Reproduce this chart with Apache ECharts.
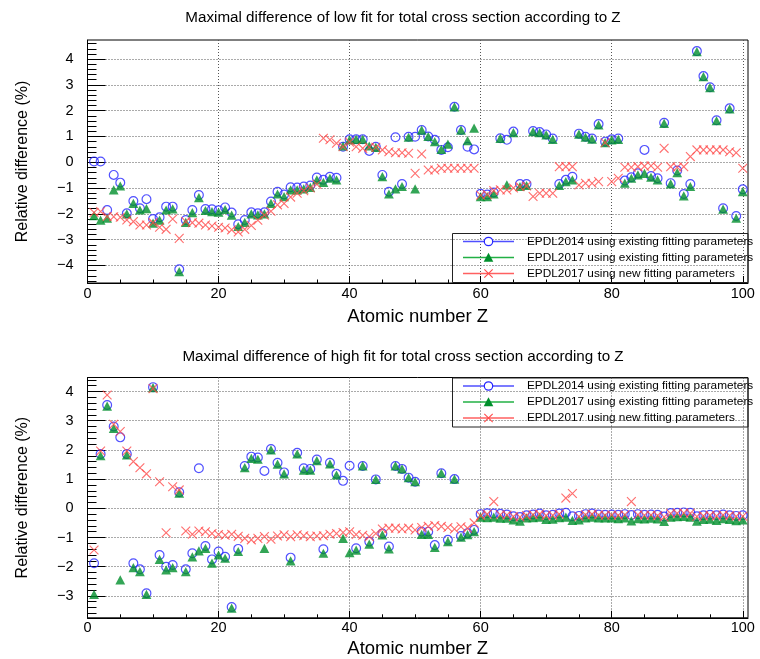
<!DOCTYPE html>
<html>
<head>
<meta charset="utf-8">
<title>Maximal difference of low and high fit for total cross section</title>
<script src="https://cdn.jsdelivr.net/npm/echarts@6/dist/echarts.min.js"></script>
<style>
  html, body { margin: 0; padding: 0; background: #fff; }
  #chart { width: 760px; height: 659px; }
</style>
</head>
<body>
<div id="chart"></div>
<script>
// Atomic numbers Z = 1 .. 100
const atomicZ = [
  1, 2, 3, 4, 5, 6, 7, 8, 9, 10, 11, 12, 13, 14, 15, 16, 17, 18, 19, 20,
  21, 22, 23, 24, 25, 26, 27, 28, 29, 30, 31, 32, 33, 34, 35, 36, 37, 38, 39, 40,
  41, 42, 43, 44, 45, 46, 47, 48, 49, 50, 51, 52, 53, 54, 55, 56, 57, 58, 59, 60,
  61, 62, 63, 64, 65, 66, 67, 68, 69, 70, 71, 72, 73, 74, 75, 76, 77, 78, 79, 80,
  81, 82, 83, 84, 85, 86, 87, 88, 89, 90, 91, 92, 93, 94, 95, 96, 97, 98, 99, 100
];

// Low fit: maximal relative difference (%)
const lowFit2014 = [
  0.03, 0.03, -1.85, -0.49, -0.79, -1.98, -1.5, -1.78, -1.43, -2.2,
  -2.13, -1.72, -1.72, -4.15, -2.24, -1.85, -1.27, -1.81, -1.82, -1.86,
  -1.75, -1.95, -2.4, -2.24, -1.94, -1.98, -1.94, -1.52, -1.14, -1.25,
  -0.97, -0.98, -0.94, -0.9, -0.59, -0.68, -0.56, -0.6, 0.6, 0.89,
  0.89, 0.89, 0.44, 0.6, -0.49, -1.14, 0.97, -0.84, 0.99, 0.99,
  1.25, 1.0, 0.87, 0.48, 0.58, 2.15, 1.25, 0.6, 0.5, -1.22,
  -1.25, -1.17, 0.93, 0.87, 1.19, -0.84, -0.84, 1.21, 1.17, 1.08,
  0.92, -0.84, -0.68, -0.56, 1.11, 0.99, 0.92, 1.48, 0.8, 0.89,
  0.92, -0.71, -0.58, -0.43, 0.48, -0.53, -0.62, 1.53, -0.81, -0.32,
  -1.23, -0.84, 4.31, 3.34, 2.91, 1.63, -1.78, 2.09, -2.08, -1.05
];
const lowFit2017Old = [
  -2.07, -2.24, -2.17, -1.07, -0.92, -2.0, -1.59, -1.85, -1.8, -2.36,
  -2.24, -1.85, -1.81, -4.24, -2.33, -1.95, -1.37, -1.87, -1.91, -1.93,
  -1.83, -2.05, -2.49, -2.33, -2.0, -2.04, -2.0, -1.59, -1.23, -1.33,
  -1.07, -1.07, -1.03, -0.97, -0.68, -0.78, -0.62, -0.68, 0.63, 0.87,
  0.89, 0.89, 0.63, 0.58, -0.56, -1.23, -1.03, -0.94, 0.97, -1.03,
  1.25, 1.0, 0.8, 0.5, 0.7, 2.15, 1.25, 0.84, 1.32, -1.33,
  -1.33, -1.23, 0.93, -0.88, 1.15, -0.94, -0.9, 1.19, 1.15, 1.06,
  0.89, -0.9, -0.75, -0.68, 1.09, 0.97, 0.9, 1.45, 0.76, 0.87,
  0.89, -0.81, -0.62, -0.49, -0.43, -0.58, -0.68, 1.51, -0.84, -0.4,
  -1.3, -0.94, 4.29, 3.32, 2.89, 1.61, -1.82, 2.07, -2.17, -1.14
];
const lowFit2017New = [
  -1.95, -1.91, -2.1, -2.11, -2.13, -2.24, -2.3, -2.43, -2.43, -2.34,
  -2.52, -2.6, -2.2, -2.95, -2.3, -2.34, -2.36, -2.43, -2.47, -2.52,
  -2.55, -2.62, -2.7, -2.6, -2.45, -2.25, -2.05, -1.9, -1.65, -1.6,
  -1.35, -1.2, -1.1, -1.0, -0.85, 0.93, 0.87, 0.74, 0.6, 0.78,
  0.6, 0.54, 0.58, 0.58, 0.48, 0.41, 0.37, 0.37, 0.35, -0.43,
  0.32, -0.3, -0.3, -0.23, -0.23, -0.23, -0.23, -0.23, -0.23, -1.28,
  -1.25, -1.1, -1.07, -1.07, -1.0, -0.95, -0.92, -1.33, -1.2, -1.2,
  -1.2, -0.17, -0.17, -0.17, -0.88, -0.81, -0.81, -0.75, 0.76, -0.75,
  -0.62, -0.19, -0.19, -0.17, -0.15, -0.14, -0.19, 0.54, -0.17, -0.19,
  -0.17, 0.22, 0.48, 0.48, 0.48, 0.48, 0.48, 0.41, 0.37, -0.23
];

// High fit: maximal relative difference (%)
const highFit2014 = [
  -1.88, 1.86, 3.54, 2.8, 2.43, 1.86, -1.88, -2.09, -2.91, 4.15,
  -1.6, -2.0, -1.94, 0.55, -2.09, -1.54, 1.37, -1.29, -1.75, -1.48,
  -1.66, -3.38, -1.39, 1.45, 1.77, 1.74, 1.28, 2.03, 1.56, 1.23,
  -1.69, 1.9, 1.37, 1.35, 1.67, -1.4, 1.56, 1.18, 0.94, 1.46,
  -1.37, 1.45, -1.14, 0.99, -0.86, -1.31, 1.45, 1.35, 1.05, 0.91,
  -0.8, -0.8, -1.26, 1.2, -1.08, 1.0, -0.95, -0.85, -0.74, -0.2,
  -0.17, -0.18, -0.19, -0.21, -0.27, -0.3, -0.24, -0.21, -0.18, -0.24,
  -0.22, -0.18, -0.15, -0.27, -0.26, -0.2, -0.18, -0.21, -0.22, -0.21,
  -0.22, -0.2, -0.23, -0.2, -0.22, -0.21, -0.22, -0.28, -0.16, -0.15,
  -0.14, -0.15, -0.27, -0.24, -0.22, -0.24, -0.21, -0.24, -0.26, -0.24
];
const highFit2017Old = [
  -2.95, 1.8, 3.5, 2.74, -2.45, 1.83, -2.03, -2.17, -2.95, 4.13,
  -1.75, -2.11, -2.03, 0.52, -2.17, -1.66, -1.46, -1.37, -1.88, -1.6,
  -1.71, -3.42, -1.48, 1.39, 1.71, 1.68, -1.37, 2.0, 1.51, 1.18,
  -1.8, 1.86, 1.31, 1.31, 1.63, -1.54, 1.52, 1.14, -1.03, -1.52,
  -1.43, 1.45, -1.23, 0.99, -0.91, -1.39, 1.45, 1.35, 1.05, 0.91,
  -0.89, -0.89, -1.34, 1.2, -1.14, 1.0, -0.99, -0.9, -0.8, -0.3,
  -0.32, -0.3, -0.34, -0.34, -0.4, -0.44, -0.33, -0.32, -0.3, -0.38,
  -0.37, -0.32, -0.3, -0.41, -0.4, -0.33, -0.3, -0.33, -0.33, -0.33,
  -0.35, -0.33, -0.43, -0.35, -0.36, -0.34, -0.36, -0.45, -0.3, -0.29,
  -0.28, -0.3, -0.44, -0.38, -0.37, -0.41, -0.35, -0.38, -0.42, -0.4
];
const highFit2017New = [
  -1.43, 1.96, 3.88, 2.88, 2.63, 1.96, 1.6, 1.39, 1.18, 4.1,
  0.91, -0.84, 0.74, 0.63, -0.78, -0.89, -0.78, -0.8, -0.86, -0.9,
  -0.92, -0.89, -0.96, -1.03, -1.08, -1.03, -0.97, -1.06, -0.95, -0.91,
  -0.97, -0.91, -0.94, -0.97, -0.95, -0.94, -0.89, -0.86, -0.83, -0.8,
  -0.9, -0.92, -0.97, -0.86, -0.71, -0.68, -0.68, -0.71, -0.68, -0.74,
  -0.66, -0.62, -0.59, -0.62, -0.66, -0.71, -0.63, -0.68, -0.5, -0.25,
  -0.2, 0.23, -0.22, -0.23, -0.28, -0.3, -0.25, -0.22, -0.2, -0.25,
  -0.24, -0.2, 0.35, 0.51, -0.28, -0.22, -0.2, -0.23, -0.24, -0.23,
  -0.24, -0.22, 0.23, -0.22, -0.24, -0.23, -0.25, -0.3, -0.18, -0.17,
  -0.16, -0.17, -0.28, -0.26, -0.24, -0.26, -0.23, -0.25, -0.27, -0.27
];

// Axis tick labels
const xTickLabels = [0, 20, 40, 60, 80, 100];
const yTickLabelsLow = [-4, -3, -2, -1, 0, 1, 2, 3, 4];
const yTickLabelsHigh = [-3, -2, -1, 0, 1, 2, 3, 4];

const titles = [
  'Maximal difference of low fit for total cross section according to Z',
  'Maximal difference of high fit for total cross section according to Z'
];
const seriesNames = [
  'EPDL2014 using existing fitting parameters',
  'EPDL2017 using existing fitting parameters',
  'EPDL2017 using new fitting parameters'
];
const xTitle = 'Atomic number Z';
const yTitle = 'Relative difference (%)';

// ---- styling and layout ----
const FONT = '"Liberation Sans", Arial, Helvetica, sans-serif';
const BLUE = '#2626ff', GREEN = '#008f2c', RED = '#ff4a4a';
const BLUE_LINE = '#4f4fff', GREEN_LINE = '#22b044', RED_LINE = '#ff6060';
const CROSS_PATH = 'path://M0,0L10,10M10,0L0,10';
const X_MAX = 100.8;
const GRID_LEFT = 87.5, GRID_WIDTH = 660.5;
const panels = [
  { top: 40, height: 243, yMin: -4.68, yMax: 4.74, yLabels: yTickLabelsLow, nameGap: 24 },
  { top: 377.5, height: 240.3, yMin: -3.75, yMax: 4.48, yLabels: yTickLabelsHigh, nameGap: 22 }
];

function stepValues(lo, hi, step, skipEvery) {
  const out = [];
  const n0 = Math.ceil(lo / step - 1e-9), n1 = Math.floor(hi / step + 1e-9);
  for (let n = n0; n <= n1; n++) {
    if (skipEvery && n % skipEvery === 0) continue;
    out.push(Math.round(n * step * 1000) / 1000);
  }
  return out;
}
const signed = v => (v < 0 ? '\u2212' + (-v) : String(v));
const gridLine = { show: true, lineStyle: { color: '#555', width: 1, type: [1, 2] } };
const black = { color: '#000', width: 1 };

const grids = [], xAxes = [], yAxes = [];
panels.forEach((p, i) => {
  grids.push({
    left: GRID_LEFT, top: p.top, width: GRID_WIDTH, height: p.height,
    show: true, borderColor: '#000', borderWidth: 1, backgroundColor: 'transparent',
    containLabel: false, outerBoundsMode: 'none'
  });
  // main x axis: labels, long ticks, grid lines
  xAxes.push({
    type: 'value', gridIndex: i, position: 'bottom', min: 0, max: X_MAX, splitNumber: 5,
    name: xTitle, nameLocation: 'middle', nameGap: p.nameGap,
    nameTextStyle: { fontFamily: FONT, fontSize: 18.5, color: '#000' },
    axisLine: { show: true, onZero: false, lineStyle: black },
    axisTick: { show: true, inside: true, length: 7, customValues: xTickLabels, lineStyle: black },
    axisLabel: { show: true, customValues: xTickLabels, margin: 3, fontFamily: FONT, fontSize: 14.5, color: '#000' },
    splitLine: gridLine
  });
  // secondary x ticks every 5
  xAxes.push({
    type: 'value', gridIndex: i, position: 'bottom', min: 0, max: X_MAX,
    axisLine: { show: false, onZero: false },
    axisTick: { show: true, inside: true, length: 3.5, customValues: stepValues(0, 100, 5, 4), lineStyle: black },
    axisLabel: { show: false }, splitLine: { show: false }
  });
  // main y axis
  yAxes.push({
    type: 'value', gridIndex: i, position: 'left', min: p.yMin, max: p.yMax, splitNumber: 10,
    name: yTitle, nameLocation: 'middle', nameGap: 57, nameRotate: 90,
    nameTextStyle: { fontFamily: FONT, fontSize: 16, color: '#000' },
    axisLine: { show: true, onZero: false, lineStyle: black },
    axisTick: { show: true, inside: true, length: 18, customValues: p.yLabels, lineStyle: black },
    axisLabel: { show: true, customValues: p.yLabels, margin: 14, fontFamily: FONT, fontSize: 14.5, color: '#000',
                 formatter: v => signed(v) },
    splitLine: gridLine
  });
  // secondary y ticks every 0.2
  yAxes.push({
    type: 'value', gridIndex: i, position: 'left', min: p.yMin, max: p.yMax,
    axisLine: { show: false, onZero: false },
    axisTick: { show: true, inside: true, length: 9, customValues: stepValues(p.yMin, p.yMax, 0.2, 5), lineStyle: black },
    axisLabel: { show: false }, splitLine: { show: false }
  });
});

const pairs = vals => atomicZ.map((z, i) => [z, vals[i]]);
const markerStyles = [
  { symbol: 'circle', symbolSize: 8.8, itemStyle: { color: 'rgba(0,0,0,0)', borderColor: BLUE, borderWidth: 1.2 } },
  { symbol: 'triangle', symbolSize: [9.8, 9.2], itemStyle: { color: GREEN } },
  { symbol: CROSS_PATH, symbolSize: 8.8, itemStyle: { color: 'rgba(0,0,0,0)', borderColor: RED, borderWidth: 1.1 } }
];
const panelData = [
  [lowFit2014, lowFit2017Old, lowFit2017New],
  [highFit2014, highFit2017Old, highFit2017New]
];
const series = [];
panelData.forEach((sets, pi) => {
  sets.forEach((vals, si) => {
    series.push(Object.assign({
      type: 'scatter', name: seriesNames[si],
      xAxisIndex: pi * 2, yAxisIndex: pi * 2,
      data: pairs(vals), silent: true, z: 3 + si,
      emphasis: { disabled: true }
    }, markerStyles[si]));
  });
});

// legend boxes (line + marker + text)
function legendBox(top) {
  const els = [{
    type: 'rect', z: 10, shape: { x: 452.5, y: top + 0.5, width: 295.5, height: 49 },
    style: { fill: 'none', stroke: '#222', lineWidth: 1 }
  }];
  const lineCols = [BLUE_LINE, GREEN_LINE, RED_LINE];
  seriesNames.forEach((label, i) => {
    const y = top + 8.5 + 16 * i, cx = 488.5;
    els.push({ type: 'line', z: 10, shape: { x1: 463, y1: y, x2: 514, y2: y }, style: { stroke: lineCols[i], lineWidth: 1.3 } });
    if (i === 0) {
      els.push({ type: 'circle', z: 11, shape: { cx, cy: y, r: 4.2 }, style: { fill: '#fff', stroke: BLUE, lineWidth: 1.2 } });
    } else if (i === 1) {
      els.push({ type: 'polygon', z: 11, shape: { points: [[cx, y - 4.7], [cx - 4.8, y + 4.3], [cx + 4.8, y + 4.3]] }, style: { fill: GREEN } });
    } else {
      els.push({ type: 'line', z: 11, shape: { x1: cx - 4.2, y1: y - 4.2, x2: cx + 4.2, y2: y + 4.2 }, style: { stroke: RED, lineWidth: 1.1 } });
      els.push({ type: 'line', z: 11, shape: { x1: cx - 4.2, y1: y + 4.2, x2: cx + 4.2, y2: y - 4.2 }, style: { stroke: RED, lineWidth: 1.1 } });
    }
    els.push({
      type: 'text', z: 11, x: 527, y: y,
      style: { text: label, font: '11.8px ' + FONT, fill: '#000',
               textAlign: 'left', align: 'left', textVerticalAlign: 'middle', verticalAlign: 'middle' }
    });
  });
  return els;
}

function titleText(text, y) {
  return {
    type: 'text', x: 403, y: y,
    style: { text, font: '15.2px ' + FONT, fill: '#000',
             textAlign: 'center', align: 'center', textVerticalAlign: 'middle', verticalAlign: 'middle' }
  };
}

const chart = echarts.init(document.getElementById('chart'), null, { renderer: 'canvas' });
chart.setOption({
  backgroundColor: '#fff',
  animation: false,
  grid: grids,
  xAxis: xAxes,
  yAxis: yAxes,
  series: series,
  graphic: [
    titleText(titles[0], 18),
    titleText(titles[1], 357),
    ...legendBox(233),
    ...legendBox(377.5)
  ]
});
</script>
</body>
</html>
